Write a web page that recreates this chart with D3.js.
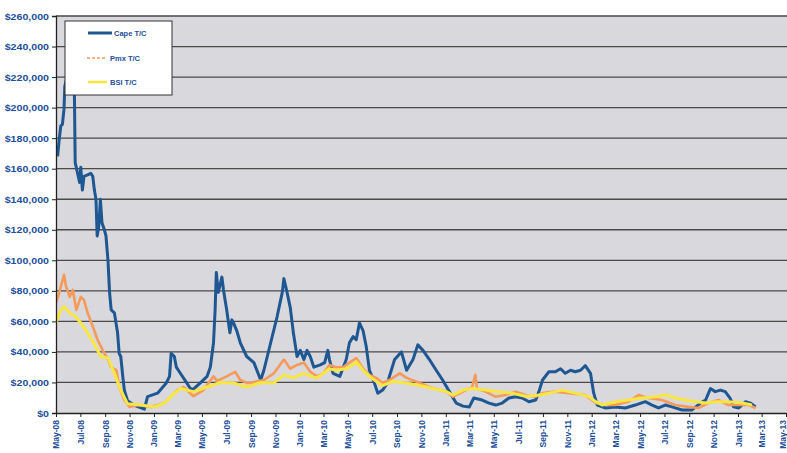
<!DOCTYPE html>
<html><head><meta charset="utf-8">
<script src="https://cdn.jsdelivr.net/npm/d3@7"></script>
<style>
html,body{margin:0;padding:0;background:#fff;}
svg{display:block;font-family:"Liberation Sans",Arial,sans-serif;}
</style></head>
<body><svg id="c" width="787" height="453"></svg>
<script>
// ---------- DATA ----------
const seriesNames = ["Cape T/C", "Pmx T/C", "BSI T/C"];

const capeDates = ["2008-05-05","2008-05-09","2008-05-13","2008-05-17","2008-05-21","2008-05-23","2008-05-26","2008-06-03","2008-06-08","2008-06-13","2008-06-16","2008-06-18","2008-06-24","2008-06-29","2008-07-02","2008-07-06","2008-07-10","2008-07-19","2008-07-27","2008-08-01","2008-08-05","2008-08-09","2008-08-12","2008-08-16","2008-08-20","2008-08-24","2008-08-30","2008-09-03","2008-09-08","2008-09-12","2008-09-16","2008-09-24","2008-10-02","2008-10-06","2008-10-10","2008-10-15","2008-10-19","2008-10-27","2008-11-13","2008-12-08","2008-12-16","2009-01-10","2009-02-01","2009-02-09","2009-02-13","2009-02-21","2009-02-26","2009-03-08","2009-03-24","2009-04-02","2009-04-09","2009-04-27","2009-05-14","2009-05-22","2009-05-30","2009-06-03","2009-06-06","2009-06-11","2009-06-20","2009-06-24","2009-07-02","2009-07-10","2009-07-15","2009-07-19","2009-07-27","2009-08-05","2009-08-21","2009-09-08","2009-09-25","2009-10-03","2009-10-20","2009-11-05","2009-11-18","2009-11-22","2009-11-30","2009-12-08","2009-12-16","2009-12-25","2010-01-02","2010-01-11","2010-01-19","2010-01-27","2010-02-05","2010-02-21","2010-03-04","2010-03-12","2010-03-16","2010-03-25","2010-04-11","2010-04-27","2010-05-05","2010-05-14","2010-05-22","2010-05-30","2010-06-08","2010-06-16","2010-06-24","2010-07-02","2010-07-15","2010-07-27","2010-08-09","2010-08-13","2010-08-26","2010-09-12","2010-09-25","2010-10-11","2010-10-23","2010-11-05","2010-11-21","2010-12-08","2010-12-24","2011-01-10","2011-01-27","2011-02-13","2011-03-01","2011-03-12","2011-04-02","2011-04-19","2011-05-06","2011-05-22","2011-06-08","2011-06-25","2011-07-11","2011-07-28","2011-08-14","2011-08-22","2011-08-31","2011-09-16","2011-10-02","2011-10-15","2011-10-27","2011-11-09","2011-11-21","2011-12-04","2011-12-16","2011-12-29","2012-01-06","2012-01-15","2012-02-05","2012-02-29","2012-03-25","2012-04-19","2012-05-14","2012-05-31","2012-06-16","2012-07-03","2012-07-20","2012-08-14","2012-09-08","2012-09-29","2012-10-12","2012-10-24","2012-11-05","2012-11-18","2012-11-30","2012-12-12","2012-12-21","2013-01-03","2013-01-20","2013-02-01","2013-02-14"];
const capeValues = [168000,179000,188000,189000,199000,214000,217000,228000,234000,225000,210000,164000,157000,151000,161000,146000,155000,156000,157000,155000,146000,140000,116000,122000,140000,124600,120000,116000,100000,79000,67500,65600,52500,39000,37000,24000,15000,8000,5000,2500,10700,13000,19700,24000,39000,37000,30000,26000,19700,16000,15500,19700,24000,30000,46000,67500,92000,79000,89000,80600,67500,52500,61000,59000,54000,46000,37000,33000,21600,28000,46000,63000,79000,88000,79000,69000,52000,37000,41000,35000,41000,37000,30000,31500,33000,41000,35000,26000,24000,35000,46000,50000,48000,59000,54000,43500,28000,23000,13000,15000,20000,24000,35000,40000,28000,35000,44600,41000,35000,28000,21600,14000,6500,4500,4000,9800,8500,6500,5200,6500,9800,10700,9800,7400,8500,14000,21600,27000,27000,29000,26000,28000,27000,28000,31000,26000,13000,5200,3300,4000,3300,5200,7400,5200,3300,5200,4000,2000,2000,6500,8500,16000,14000,15000,14000,9800,4000,3300,7400,6500,4000];

const pmxDates = ["2008-05-01","2008-05-09","2008-05-21","2008-05-26","2008-06-04","2008-06-12","2008-06-21","2008-07-02","2008-07-10","2008-07-19","2008-08-01","2008-08-13","2008-08-26","2008-09-08","2008-09-16","2008-09-29","2008-10-06","2008-10-19","2008-11-01","2008-11-22","2008-12-25","2009-01-27","2009-02-28","2009-03-16","2009-04-10","2009-05-05","2009-05-30","2009-06-08","2009-07-02","2009-07-23","2009-08-05","2009-08-21","2009-08-30","2009-10-03","2009-10-28","2009-11-22","2009-12-08","2009-12-25","2010-01-11","2010-01-27","2010-02-13","2010-03-01","2010-03-16","2010-04-02","2010-04-19","2010-05-05","2010-05-22","2010-06-08","2010-06-24","2010-07-11","2010-07-27","2010-08-13","2010-09-08","2010-09-25","2010-10-28","2010-11-21","2010-12-16","2011-01-02","2011-01-19","2011-02-13","2011-03-08","2011-03-16","2011-03-20","2011-04-10","2011-05-05","2011-05-30","2011-06-25","2011-07-19","2011-08-14","2011-08-31","2011-10-02","2011-11-05","2011-12-16","2012-01-11","2012-02-05","2012-02-29","2012-04-02","2012-04-27","2012-05-22","2012-06-25","2012-07-28","2012-08-30","2012-09-24","2012-10-19","2012-11-13","2012-12-08","2013-01-03","2013-01-28","2013-02-14"];
const pmxValues = [72000,78700,90500,83000,76000,80600,67500,76000,74000,65600,56600,48000,41000,35000,30000,28000,17000,8500,4000,5200,4000,6500,15000,17000,11000,15000,24000,21000,24000,27000,21600,19700,19700,21600,26000,35000,29000,31500,33000,27000,24000,26000,31500,30000,30000,33000,36000,29000,25000,23000,19700,21600,26000,23000,19700,17000,15000,14000,10700,14000,17000,25000,16000,14000,10700,11800,14000,11800,10700,13000,14000,13000,11800,6500,5200,5200,7400,11800,9800,8500,5200,4000,3300,6500,8500,5200,5200,5200,3300];

const bsiDates = ["2008-05-01","2008-05-13","2008-05-21","2008-06-04","2008-06-16","2008-07-02","2008-07-19","2008-08-05","2008-08-21","2008-09-08","2008-09-24","2008-10-10","2008-10-27","2008-11-30","2009-01-02","2009-01-27","2009-02-21","2009-03-08","2009-04-10","2009-05-14","2009-06-16","2009-07-19","2009-08-21","2009-09-25","2009-10-28","2009-11-22","2009-12-16","2010-01-11","2010-01-27","2010-02-13","2010-03-01","2010-03-16","2010-04-02","2010-04-27","2010-05-14","2010-05-22","2010-06-08","2010-06-24","2010-07-11","2010-07-27","2010-08-21","2010-09-25","2010-10-28","2010-11-30","2011-01-02","2011-01-19","2011-02-13","2011-03-08","2011-04-10","2011-05-13","2011-06-16","2011-07-19","2011-08-22","2011-09-16","2011-10-19","2011-11-21","2011-12-25","2012-01-11","2012-01-28","2012-02-29","2012-04-02","2012-05-06","2012-06-08","2012-07-03","2012-07-28","2012-08-22","2012-09-17","2012-10-12","2012-11-05","2012-12-08","2013-01-12","2013-02-05"];
const bsiValues = [59000,67500,69700,65600,64000,59000,52500,45000,37000,36000,26000,15000,6000,5200,4000,6500,13000,16000,14000,17000,20000,19700,17000,20000,19700,25000,23000,26000,24000,23000,26000,29000,28000,29000,31500,33600,28000,24000,20700,18000,20700,19700,18000,16000,14000,11800,15000,16000,15000,14000,13000,11000,11800,13000,15000,13000,10700,7400,5200,7400,8500,9800,10700,11800,9800,8500,7400,6500,7400,7400,6500,5200];

const yTicks = [0,20000,40000,60000,80000,100000,120000,140000,160000,180000,200000,220000,240000,260000];
const xTickDates = ["2008-05","2008-07","2008-09","2008-11","2009-01","2009-03","2009-05","2009-07","2009-09","2009-11","2010-01","2010-03","2010-05","2010-07","2010-09","2010-11","2011-01","2011-03","2011-05","2011-07","2011-09","2011-11","2012-01","2012-03","2012-05","2012-07","2012-09","2012-11","2013-01","2013-03","2013-05"];

// ---------- CHART ----------
(function () {
const parseDay = d3.timeParse("%Y-%m-%d");
const parseMonth = d3.timeParse("%Y-%m");
const svg = d3.select("#c");
const pL = 56, pT = 16, pB = 413, pR = 790;
const blue = "#1f5792", orange = "#f59a5a", yellow = "#f8e642", textBlue = "#234f99";

const x = d3.scaleTime()
  .domain([parseMonth("2008-05"), parseMonth("2013-05")])
  .range([pL, 786]);
const y = d3.scaleLinear().domain([0, 260000]).range([pB, pT]);

svg.append("rect").attr("x", pL).attr("y", pT)
  .attr("width", pR - pL).attr("height", pB - pT).attr("fill", "#d8d8dd");

svg.append("g").selectAll("line").data(yTicks.filter(d => d > 0)).join("line")
  .attr("x1", pL).attr("x2", pR)
  .attr("y1", d => y(d)).attr("y2", d => y(d))
  .attr("stroke", "#4a4a4a").attr("stroke-width", 1.3);

svg.append("defs").append("clipPath").attr("id", "clip")
  .append("rect").attr("x", pL).attr("y", pT).attr("width", pR - pL).attr("height", pB - pT);

const series = [
  {dates: capeDates, values: capeValues, color: blue, w: 3},
  {dates: pmxDates, values: pmxValues, color: orange, w: 2.6},
  {dates: bsiDates, values: bsiValues, color: yellow, w: 3}
];
const line = d3.line().x(d => x(d[0])).y(d => y(d[1]));
const lg = svg.append("g").attr("clip-path", "url(#clip)");
series.forEach(s => {
  const pts = s.dates.map((d, i) => [parseDay(d), s.values[i]]);
  lg.append("path").datum(pts).attr("d", line)
    .attr("fill", "none").attr("stroke", s.color).attr("stroke-width", s.w)
    .attr("stroke-linejoin", "round");
});

const yAxis = svg.append("g").attr("transform", `translate(${pL},0)`)
  .call(d3.axisLeft(y).tickValues(yTicks).tickFormat(d3.format("$,")).tickSize(4).tickPadding(3));
yAxis.select(".domain").attr("stroke", "#222").attr("stroke-width", 1.3);
yAxis.selectAll(".tick line").attr("stroke", "#222");
yAxis.selectAll("text").attr("fill", textBlue).attr("font-size", "9.5px").attr("font-weight", "bold")
  .attr("transform", "scale(1.12,1)").attr("x", -7 / 1.12);

const xAxis = svg.append("g").attr("transform", `translate(0,${pB})`)
  .call(d3.axisBottom(x).tickValues(xTickDates.map(parseMonth)).tickFormat(d3.timeFormat("%b-%y")).tickSize(4).tickSizeOuter(0));
xAxis.select(".domain").attr("stroke", "#222").attr("stroke-width", 1.3);
xAxis.selectAll(".tick line").attr("stroke", "#222");
const nT = xTickDates.length;
xAxis.selectAll("text").attr("fill", textBlue).attr("font-size", "8.5px").attr("font-weight", "bold")
  .attr("text-anchor", "end")
  .attr("transform", (d, i) => (i === nT - 1 ? "translate(-3,0) " : "") + "rotate(-90)")
  .attr("x", -7).attr("y", 0).attr("dy", "0.35em");

const leg = svg.append("g");
leg.append("rect").attr("x", 65).attr("y", 21).attr("width", 107).attr("height", 74)
  .attr("fill", "#fff").attr("stroke", "#333").attr("stroke-width", 1);
const legItems = [
  {y: 33, color: blue, dash: null, x1: 88, x2: 112, tx: 114, w: 3},
  {y: 58, color: orange, dash: "3,2", x1: 87, x2: 107, tx: 110, w: 1.6},
  {y: 82, color: yellow, dash: null, x1: 88, x2: 107, tx: 110, w: 2.6}
];
legItems.forEach((it, i) => {
  leg.append("line").attr("x1", it.x1).attr("x2", it.x2).attr("y1", it.y).attr("y2", it.y)
    .attr("stroke", it.color).attr("stroke-width", it.w).attr("stroke-dasharray", it.dash);
  leg.append("text").attr("x", it.tx).attr("y", it.y).attr("dy", "0.35em")
    .attr("fill", textBlue).attr("font-size", "7.5px").attr("font-weight", "bold").text(seriesNames[i]);
});
})();
</script></body></html>
